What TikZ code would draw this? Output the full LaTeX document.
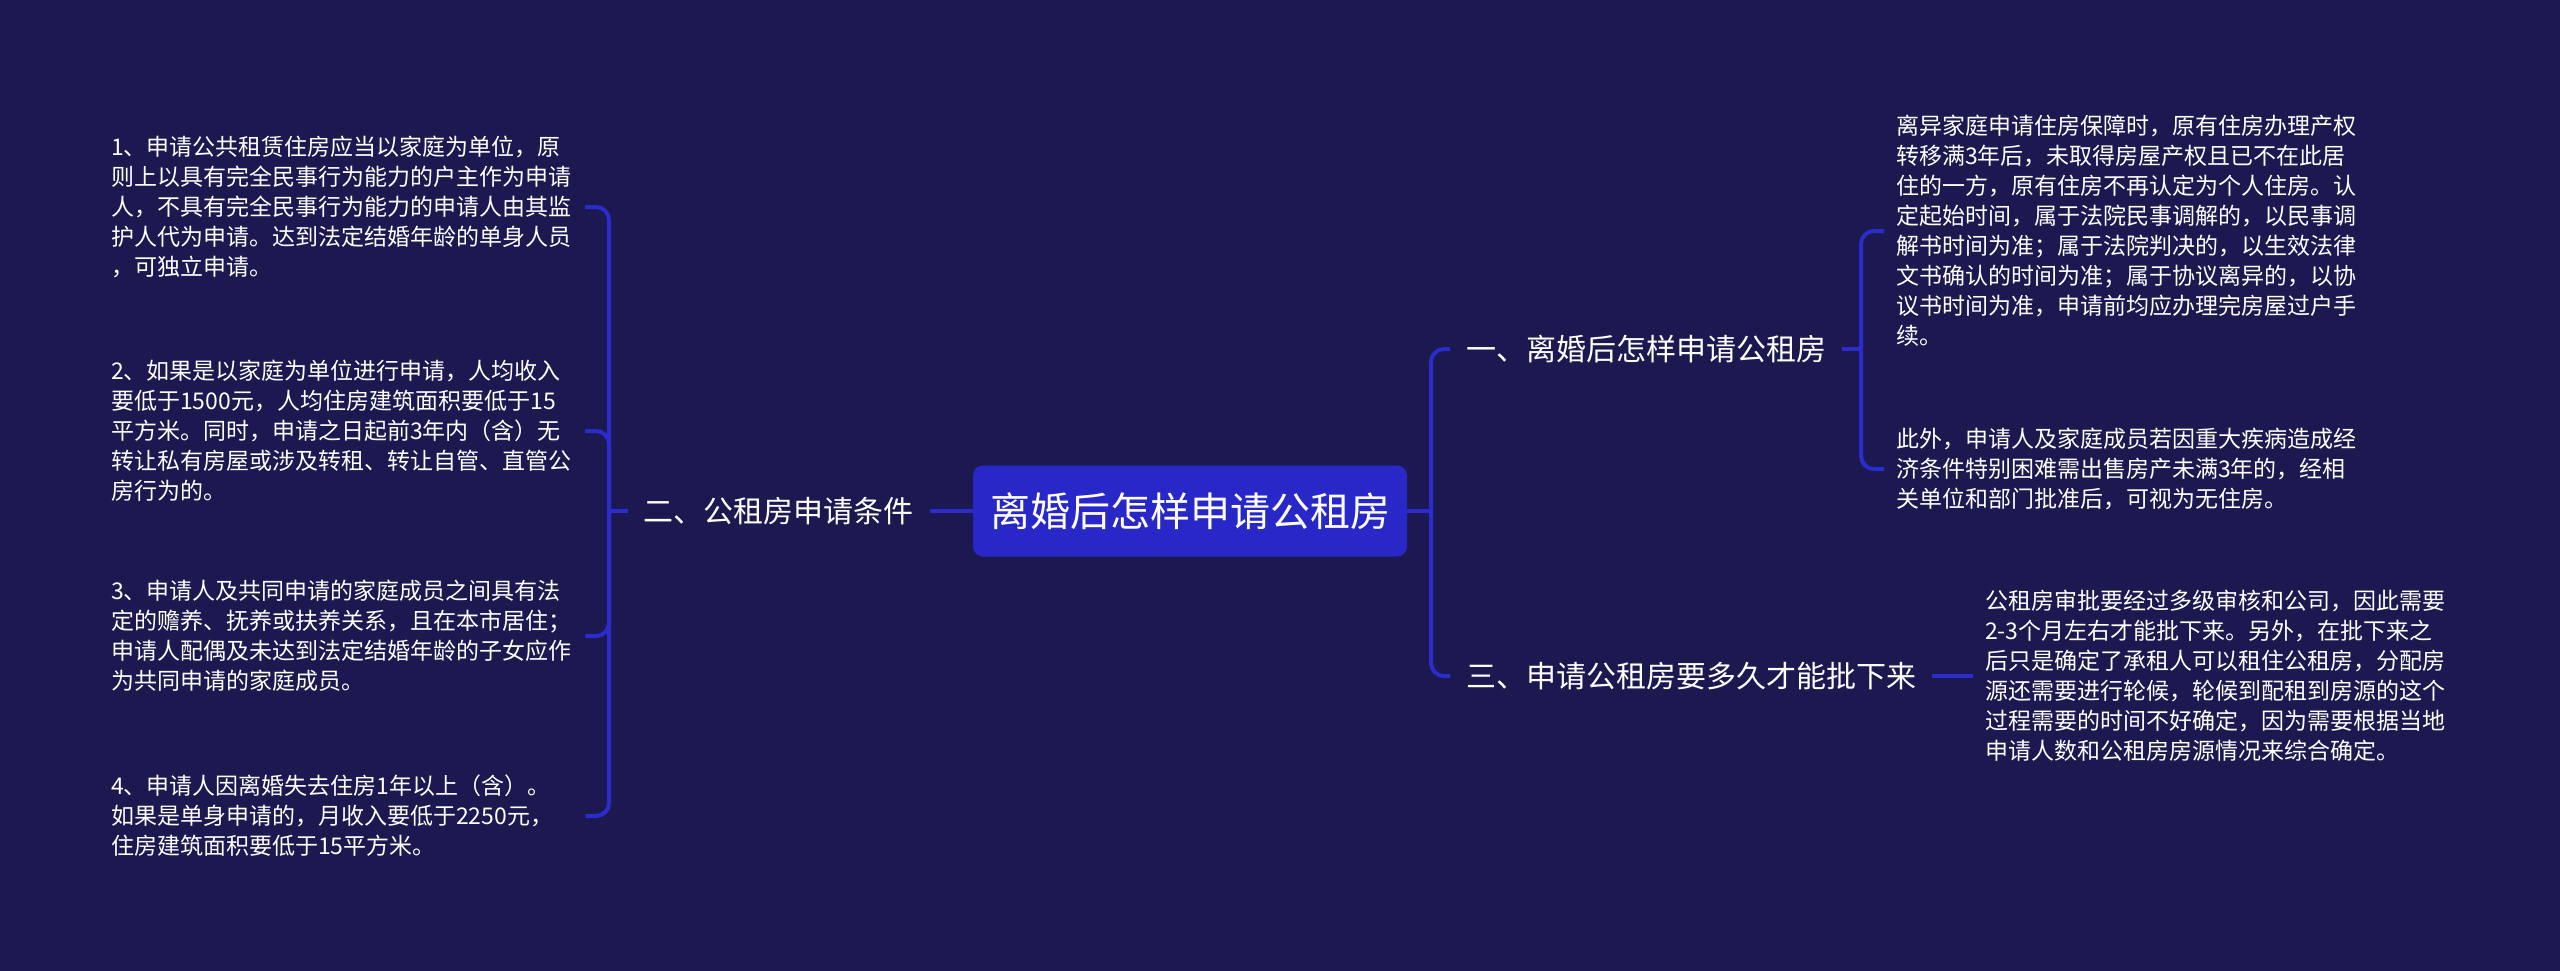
\documentclass[tikz,border=0pt]{standalone}
\usepackage{fontspec}
\setmainfont{Noto Sans CJK SC}
\definecolor{bgc}{HTML}{1B1950}
\definecolor{rootc}{HTML}{2828C8}
\definecolor{linec}{HTML}{2C2BCB}
\begin{document}
\begin{tikzpicture}[x=1pt,y=-1pt,
  rootbox/.style={fill=rootc, rounded corners=10pt, text=white, minimum width=434pt, minimum height=91pt, inner xsep=17pt, font=\fontsize{40}{48}\selectfont},
  branch/.style={text=white, inner xsep=16pt, inner ysep=6pt, font=\fontsize{30}{36}\selectfont},
  leaf/.style={text=white, align=left, text width=462pt, inner xsep=12pt, inner ysep=4pt, font=\fontsize{23}{30}\selectfont},
  conn/.style={draw=linec, line width=4pt, rounded corners=13pt},
  stub/.style={draw=linec, line width=3.5pt}]
\useasboundingbox (0,0) rectangle (2560,971);
\fill[bgc] (0,0) rectangle (2560,971);

\node[rootbox] (root) at (1190,511) {离婚后怎样申请公租房};

\node[branch, anchor=east] (b2) at (930,511) {二、公租房申请条件};
\node[branch, anchor=west] (b1) at (1450,349) {一、离婚后怎样申请公租房};
\node[branch, anchor=west] (b3) at (1450,676) {三、申请公租房要多久才能批下来};

\node[leaf, anchor=west] (l1) at (99,207) {1、申请公共租赁住房应当以家庭为单位，原\\则上以具有完全民事行为能力的户主作为申请\\人，不具有完全民事行为能力的申请人由其监\\护人代为申请。达到法定结婚年龄的单身人员\\，可独立申请。};
\node[leaf, anchor=west] (l2) at (99,431) {2、如果是以家庭为单位进行申请，人均收入\\要低于1500元，人均住房建筑面积要低于15\\平方米。同时，申请之日起前3年内（含）无\\转让私有房屋或涉及转租、转让自管、直管公\\房行为的。};
\node[leaf, anchor=west] (l3) at (99,636) {3、申请人及共同申请的家庭成员之间具有法\\定的赡养、抚养或扶养关系，且在本市居住；\\申请人配偶及未达到法定结婚年龄的子女应作\\为共同申请的家庭成员。};
\node[leaf, anchor=west] (l4) at (99,816) {4、申请人因离婚失去住房1年以上（含）。\\如果是单身申请的，月收入要低于2250元，\\住房建筑面积要低于15平方米。};

\node[leaf, anchor=west] (r1) at (1884,231) {离异家庭申请住房保障时，原有住房办理产权\\转移满3年后，未取得房屋产权且已不在此居\\住的一方，原有住房不再认定为个人住房。认\\定起始时间，属于法院民事调解的，以民事调\\解书时间为准；属于法院判决的，以生效法律\\文书确认的时间为准；属于协议离异的，以协\\议书时间为准，申请前均应办理完房屋过户手\\续。};
\node[leaf, anchor=west] (r2) at (1884,469) {此外，申请人及家庭成员若因重大疾病造成经\\济条件特别困难需出售房产未满3年的，经相\\关单位和部门批准后，可视为无住房。};
\node[leaf, anchor=west] (r3) at (1973,676) {公租房审批要经过多级审核和公司，因此需要\\2-3个月左右才能批下来。另外，在批下来之\\后只是确定了承租人可以租住公租房，分配房\\源还需要进行轮候，轮候到配租到房源的这个\\过程需要的时间不好确定，因为需要根据当地\\申请人数和公租房房源情况来综合确定。};

\coordinate (sL) at (609,511);
\coordinate (sR) at (1431,511);
\coordinate (sR1) at (1861,349);

\draw[stub] (root.west) -- (b2.east);
\draw[stub] (b2.west) -- (sL);
\foreach \n in {l1,l2,l3,l4}{\draw[conn] (sL) |- (\n.east);}
\draw[stub] (root.east) -- (sR);
\draw[conn] (sR) |- (b1.west);
\draw[conn] (sR) |- (b3.west);
\draw[stub] (b1.east) -- (sR1);
\draw[conn] (sR1) |- (r1.west);
\draw[conn] (sR1) |- (r2.west);
\draw[stub] (b3.east) -- (r3.west);
\end{tikzpicture}
\end{document}
